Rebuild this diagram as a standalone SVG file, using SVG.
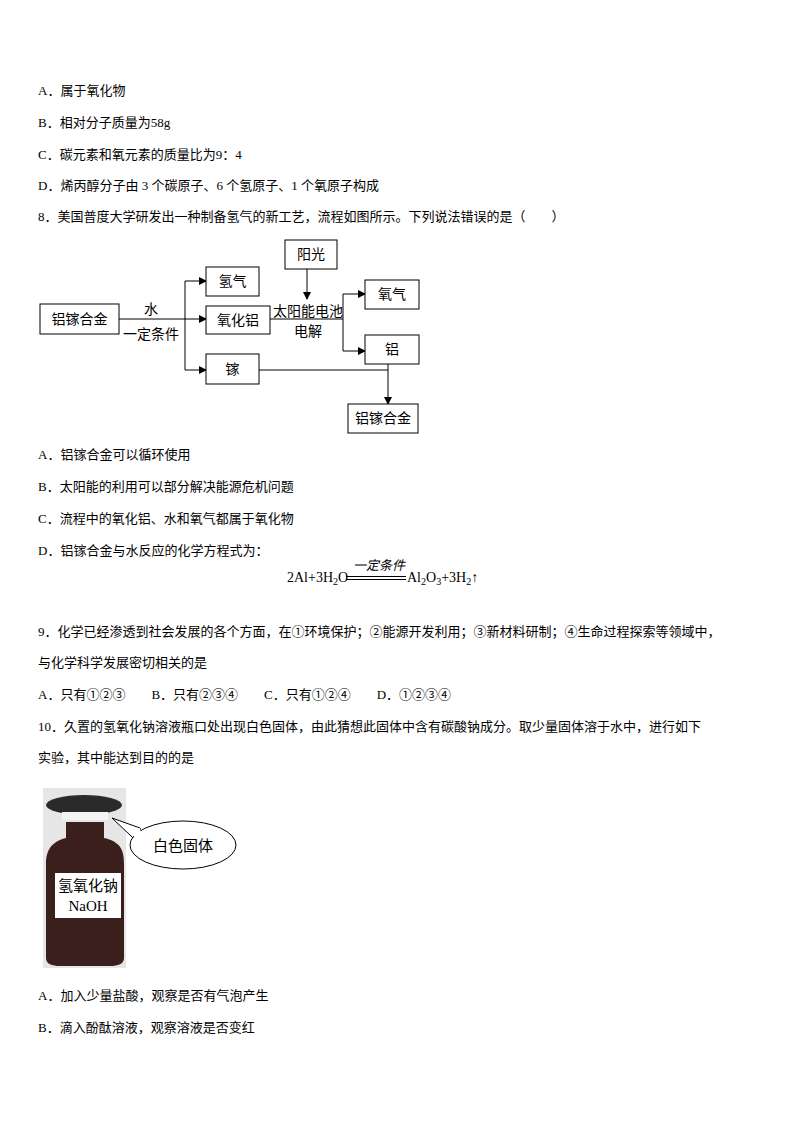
<svg xmlns="http://www.w3.org/2000/svg" width="794" height="1123" viewBox="0 0 794 1123">
<style>
text{font-family:"Liberation Serif","Noto Sans CJK SC",serif;font-size:13px;fill:#000}
.d{font-family:"Noto Sans CJK SC",sans-serif;font-size:14px;text-anchor:middle}
.b{fill:#fff;stroke:#000;stroke-width:1}
.l{stroke:#000;stroke-width:1;fill:none}
.e{font-size:14px}
</style>
<defs><marker id="a" markerWidth="8" markerHeight="8" refX="7" refY="4" orient="auto" markerUnits="userSpaceOnUse"><path d="M0,0 L8,4 L0,8z"/></marker></defs>
<rect width="794" height="1123" fill="#fff"/>
<text x="38" y="95">A．属于氧化物</text>
<text x="38" y="127">B．相对分子质量为58g</text>
<text x="38" y="159">C．碳元素和氧元素的质量比为9：4</text>
<text x="38" y="190">D．烯丙醇分子由 3 个碳原子、6 个氢原子、1 个氧原子构成</text>
<text x="38" y="221">8．美国普度大学研发出一种制备氢气的新工艺，流程如图所示。下列说法错误的是（　　）</text>
<g id="connectors">
<path class="l" d="M119,319 H206" marker-end="url(#a)"/>
<path class="l" d="M185,281 V370"/>
<path class="l" d="M185,281 H206" marker-end="url(#a)"/>
<path class="l" d="M185,370 H206" marker-end="url(#a)"/>
<path class="l" d="M270,319 H343"/>
<path class="l" d="M343,294 V351"/>
<path class="l" d="M343,294 H365" marker-end="url(#a)"/>
<path class="l" d="M343,351 H365" marker-end="url(#a)"/>
<path class="l" d="M307,269 V299" marker-end="url(#a)"/>
<path class="l" d="M259,370 H388"/>
<path class="l" d="M388,364 V404" marker-end="url(#a)"/>
</g>
<text class="d" x="151" y="314">水</text>
<text class="d" x="151" y="339">一定条件</text>
<text class="d" x="308" y="316">太阳能电池</text>
<text class="d" x="308" y="336">电解</text>
<g id="n1"><rect class="b" x="40" y="304" width="79" height="30"/><text class="d" x="79.5" y="324">铝镓合金</text></g>
<g id="n2"><rect class="b" x="206" y="267" width="53" height="29"/><text class="d" x="232.5" y="286">氢气</text></g>
<g id="n3"><rect class="b" x="206" y="306" width="64" height="28"/><text class="d" x="238" y="325">氧化铝</text></g>
<g id="n4"><rect class="b" x="206" y="354" width="53" height="30"/><text class="d" x="232.5" y="374">镓</text></g>
<g id="n5"><rect class="b" x="285" y="240" width="52" height="29"/><text class="d" x="311" y="259">阳光</text></g>
<g id="n6"><rect class="b" x="365" y="280" width="54" height="29"/><text class="d" x="392" y="299">氧气</text></g>
<g id="n7"><rect class="b" x="365" y="335" width="54" height="29"/><text class="d" x="392" y="354">铝</text></g>
<g id="n8"><rect class="b" x="348" y="404" width="70" height="29"/><text class="d" x="383" y="423">铝镓合金</text></g>
<text x="38" y="459">A．铝镓合金可以循环使用</text>
<text x="38" y="491">B．太阳能的利用可以部分解决能源危机问题</text>
<text x="38" y="523">C．流程中的氧化铝、水和氧气都属于氧化物</text>
<text x="38" y="555">D．铝镓合金与水反应的化学方程式为：</text>
<text class="e" x="287" y="582">2Al+3H<tspan font-size="10" dy="3">2</tspan><tspan dy="-3">O</tspan></text>
<text x="353" y="570" font-style="italic">一定条件</text>
<path class="l" d="M346,576.5 H406 M346,579.5 H406"/>
<text class="e" x="407" y="582">Al<tspan font-size="10" dy="3">2</tspan><tspan dy="-3">O</tspan><tspan font-size="10" dy="3">3</tspan><tspan dy="-3">+3H</tspan><tspan font-size="10" dy="3">2</tspan><tspan dy="-3">↑</tspan></text>
<text x="38" y="636">9．化学已经渗透到社会发展的各个方面，在①环境保护；②能源开发利用；③新材料研制；④生命过程探索等领域中，</text>
<text x="38" y="667">与化学科学发展密切相关的是</text>
<text x="38" y="699">A．只有①②③　　B．只有②③④　　C．只有①②④　　D．①②③④</text>
<text x="38" y="731">10．久置的氢氧化钠溶液瓶口处出现白色固体，由此猜想此固体中含有碳酸钠成分。取少量固体溶于水中，进行如下</text>
<text x="38" y="762">实验，其中能达到目的的是</text>
<g id="bottle">
<rect x="43" y="788" width="83" height="180" fill="#e6e6e6"/>
<path d="M66,822 H104 V838 C122,842 124,852 124,864 V958 C124,964 118,966 110,966 H60 C52,966 46,964 46,958 V864 C46,852 50,842 66,838Z" fill="#3a1f1c"/>
<ellipse cx="84" cy="805" rx="38" ry="10" fill="#2a2a2a"/>
<rect x="62" y="812" width="46" height="8" fill="#f4f4f4"/>
<rect x="55" y="873" width="66" height="45" fill="#fff"/>
<text x="88" y="891" style="font-size:15px;text-anchor:middle">氢氧化钠</text>
<text x="88" y="911" style="font-size:15px;text-anchor:middle">NaOH</text>
</g>
<g id="callout">
<path d="M112,818 L140,828 L148,852 Z" class="b"/>
<ellipse class="b" cx="183" cy="845" rx="53" ry="24"/>
<path d="M133,835 L140,828 L145,851" fill="#fff"/>
<text class="d" x="183" y="851" style="font-size:15px">白色固体</text>
</g>
<text x="38" y="1000">A．加入少量盐酸，观察是否有气泡产生</text>
<text x="38" y="1032">B．滴入酚酞溶液，观察溶液是否变红</text>
</svg>
